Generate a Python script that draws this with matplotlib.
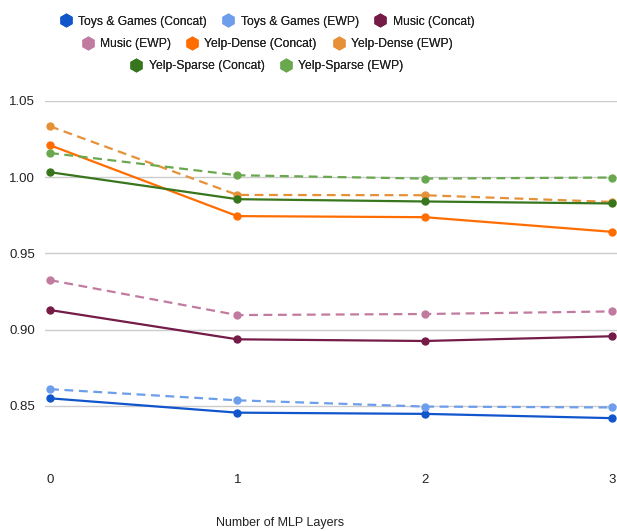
import matplotlib
matplotlib.use("Agg")
import matplotlib.pyplot as plt
from matplotlib.lines import Line2D

plt.rcParams['font.family'] = ['Liberation Sans', 'DejaVu Sans']

layers = [0, 1, 2, 3]
x_labels = ["0", "1", "2", "3"]

toys_concat = [0.855, 0.8456, 0.8448, 0.842]
toys_ewp = [0.861, 0.8537, 0.8496, 0.849]
music_concat = [0.9129, 0.8937, 0.8926, 0.8957]
music_ewp = [0.9325, 0.9096, 0.9103, 0.912]
yelp_dense_concat = [1.021, 0.9745, 0.9738, 0.9642]
yelp_dense_ewp = [1.0334, 0.9884, 0.9882, 0.9838]
yelp_sparse_concat = [1.0033, 0.9856, 0.9841, 0.9828]
yelp_sparse_ewp = [1.0159, 1.0013, 0.9991, 0.9998]

series_names = ["Toys & Games (Concat)", "Toys & Games (EWP)", "Music (Concat)",
                "Music (EWP)", "Yelp-Dense (Concat)", "Yelp-Dense (EWP)",
                "Yelp-Sparse (Concat)", "Yelp-Sparse (EWP)"]
series_values = [toys_concat, toys_ewp, music_concat, music_ewp,
                 yelp_dense_concat, yelp_dense_ewp, yelp_sparse_concat, yelp_sparse_ewp]
colors = ["#1155cc", "#6d9eeb", "#741b47", "#c27ba0",
          "#ff6d01", "#e69138", "#38761d", "#6aa84f"]
styles = ["-", "--", "-", "--", "-", "--", "-", "--"]

fig = plt.figure(figsize=(6.17, 5.31), dpi=100)
ax = fig.add_axes([0.0729, 0.1149, 0.9271, 0.6949])

for name, vals, c, ls in zip(series_names, series_values, colors, styles):
    kw = dict(dashes=(4, 2.5)) if ls == "--" else {}
    ax.plot(layers, vals, color=c, linestyle=ls, linewidth=1.6, marker='o',
            markersize=5, clip_on=False, zorder=3, **kw)

ax.set_xlim(-0.027, 3.027)
ax.set_ylim(0.808, 1.05)
ax.set_yticks([0.85, 0.90, 0.95, 1.00, 1.05])
ax.set_yticklabels(["0.85", "0.90", "0.95", "1.00", "1.05"])
ax.set_xticks(layers)
ax.set_xticklabels(x_labels)
ax.grid(axis='y', color='#cccccc', linewidth=1)
ax.set_axisbelow(True)
for s in ax.spines.values():
    s.set_visible(False)
ax.tick_params(length=0, labelsize=9.5, colors='#222222')
ax.tick_params(axis='x', pad=3)
ax.tick_params(axis='y', pad=7)
fig.text(280 / 617, 1 - 523 / 531, "Number of MLP Layers", fontsize=9,
         color='#222222', ha='center', va='center')

handles = [Line2D([], [], linestyle='none', marker='h', markersize=9,
                  markerfacecolor=c, markeredgecolor=c) for c in colors]
rows = [(0, 3, 0.982), (3, 6, 0.939), (6, 8, 0.898)]
for a, b, y in rows:
    leg = fig.legend(handles[a:b], series_names[a:b], ncol=b - a, loc='upper center',
                     bbox_to_anchor=(267 / 617, y), frameon=False, fontsize=8.7,
                     handlelength=1.0, handletextpad=0.5, columnspacing=1.3,
                     borderpad=0, labelcolor='#222222')
    fig.add_artist(leg)

fig.savefig("out.png", dpi=100)
